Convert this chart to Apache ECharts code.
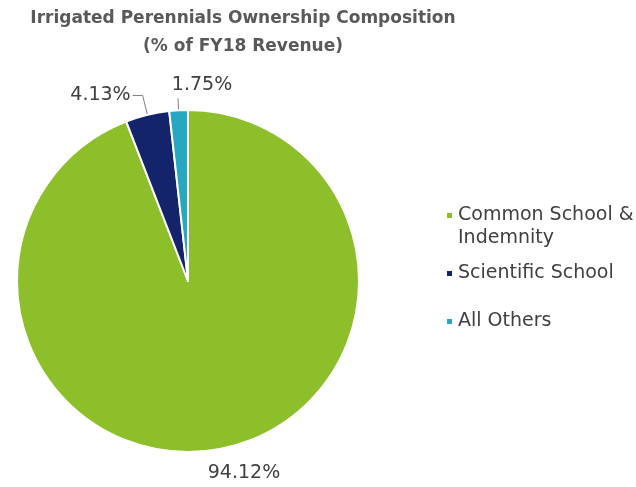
<!DOCTYPE html>
<html>
<head>
<meta charset="utf-8">
<script src="https://cdn.jsdelivr.net/npm/echarts@6/dist/echarts.min.js"></script>
<style>
html,body{margin:0;padding:0;background:#fff;}
#chart{width:636px;height:487px;}
</style>
</head>
<body>
<div id="chart"></div>
<script>
var titleText = 'Irrigated Perennials Ownership Composition\n(% of FY18 Revenue)';
var categories = ['Common School & Indemnity', 'Scientific School', 'All Others'];
var legendLabels = ['\nCommon School &\nIndemnity', 'Scientific School', 'All Others'];
var values = [94.12, 4.13, 1.75];
var colors = ['#8cbf2a', '#13246a', '#27a7c0'];

var chart = echarts.init(document.getElementById('chart'), null, {renderer: 'canvas'});

var data = categories.map(function (c, i) {
  var d = {name: c, value: values[i], itemStyle: {color: colors[i]}};
  if (i === 0) d.labelLine = {show: false};
  if (i === 2) d.labelLine = {length: 12, length2: 0};
  return d;
});

var legendTops = [176, 257, 305];
var legends = categories.map(function (c, i) {
  return {
    data: [c],
    left: 440,
    top: legendTops[i],
    orient: 'vertical',
    icon: 'rect',
    itemWidth: 7,
    itemHeight: 7,
    itemGap: 0,
    selectedMode: false,
    formatter: function () { return legendLabels[i]; },
    textStyle: {fontFamily: 'DejaVu Sans', fontSize: 19, color: '#404040', lineHeight: 23}
  };
});

// target label centres (layout only)
var labelTargets = {0: [244, 473], 2: [202, 85]};

chart.setOption({
  animation: false,
  backgroundColor: '#ffffff',
  title: {
    text: titleText,
    left: 238,
    textAlign: 'center',
    top: 0,
    textStyle: {fontFamily: 'DejaVu Sans', fontWeight: 'bold', fontSize: 17, color: '#595959', lineHeight: 28}
  },
  legend: legends,
  series: [{
    type: 'pie',
    center: [188, 281],
    radius: [0, 171],
    startAngle: 90,
    clockwise: true,
    avoidLabelOverlap: false,
    data: data,
    itemStyle: {borderColor: '#ffffff', borderWidth: 2},
    label: {
      show: true,
      position: 'outside',
      formatter: function (p) { return p.value.toFixed(2) + '%'; },
      fontFamily: 'DejaVu Sans',
      fontSize: 19,
      color: '#404040',
      distanceToLabelLine: 2
    },
    labelLine: {show: true, length: 20, length2: 10, lineStyle: {color: '#808080', width: 1}},
    labelLayout: function (p) {
      var t = labelTargets[p.dataIndex];
      if (!t) return {};
      var r = p.labelRect;
      return {dx: t[0] - (r.x + r.width / 2), dy: t[1] - (r.y + r.height / 2)};
    },
    emphasis: {disabled: true}
  }]
});
</script>
</body>
</html>
